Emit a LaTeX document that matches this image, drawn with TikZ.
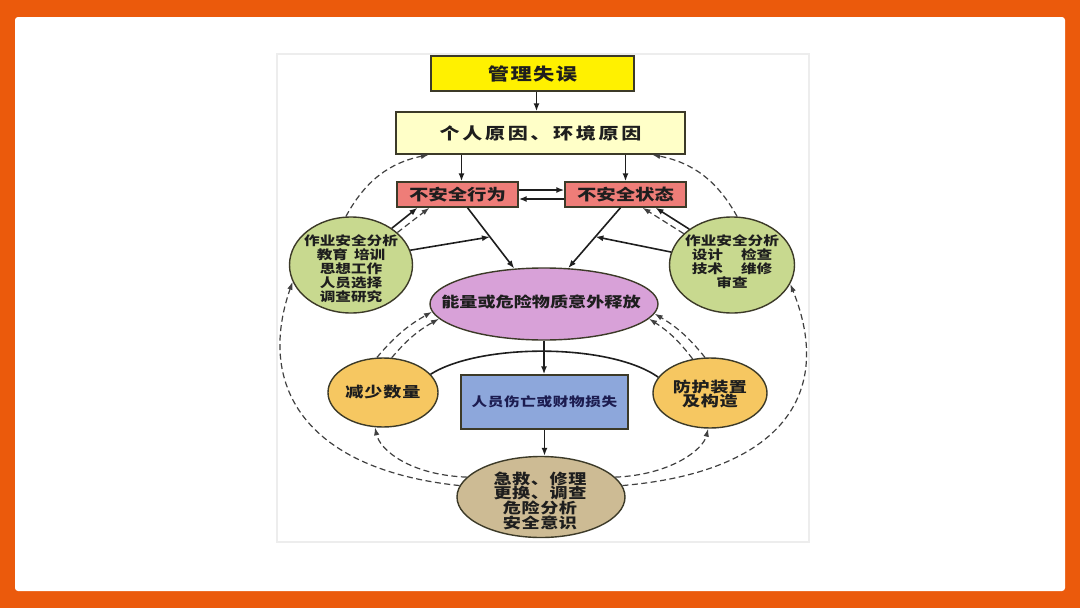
\documentclass[tikz,border=0pt]{standalone}
\usepackage{fontspec}
\setmainfont{Noto Sans CJK SC}[FakeStretch=1.25]
\usetikzlibrary{shapes.geometric,arrows.meta,calc}
\definecolor{frameor}{HTML}{EB5A0C}
\definecolor{ylw}{HTML}{FFF100}
\definecolor{lylw}{HTML}{FFFFC8}
\definecolor{salmon}{HTML}{EE7D78}
\definecolor{grn}{HTML}{C8D98F}
\definecolor{purp}{HTML}{D8A1D8}
\definecolor{blu}{HTML}{8DA7DB}
\definecolor{orc}{HTML}{F6C761}
\definecolor{tan}{HTML}{CDBB94}
\definecolor{edge}{HTML}{3C3A28}
\definecolor{ink}{HTML}{1E1E1E}
\definecolor{navy}{HTML}{1C1C50}
\newcommand\lsp[1]{\addfontfeatures{LetterSpace=#1}}
\newcommand\fsz[2]{\fontsize{#1}{#2}\selectfont}
\begin{document}
\begin{tikzpicture}[x=1pt,y=-1pt,
  box/.style={draw=edge, line width=1.4pt, inner sep=0pt, text=ink, align=center},
  oval/.style={ellipse, draw=edge, line width=1.4pt, inner sep=0pt},
  lab/.style={text=ink, align=center, inner sep=0pt},
  arr/.style={draw=ink, line width=1.6pt, -{Latex[length=8pt,width=6pt]}},
  darr/.style={draw=ink!85, line width=1.2pt, dash pattern=on 6pt off 3.5pt, -{Latex[length=8pt,width=5.5pt]}},
  link/.style={draw=ink, line width=1.6pt},
]
\useasboundingbox (0,0) rectangle (1080,608);
\fill[frameor] (0,0) rectangle (1080,608);
\fill[white, rounded corners=3pt] (15,17) rectangle (1065,591);
\draw[black!7, line width=1.5pt] (277,54) rectangle (809,542);

% boxes
\node[box, fill=ylw, minimum width=203pt, minimum height=35pt, font=\bfseries\fsz{17}{17}\lsp{8}] (gm) at (532.5,73.5) {管理失误};
\node[box, fill=lylw, minimum width=289pt, minimum height=42pt, font=\bfseries\fsz{16}{16}\lsp{17}] (ge) at (540.5,133) {个人原因、环境原因};
\node[box, fill=salmon, minimum width=121pt, minimum height=25pt, font=\bfseries\fsz{15.5}{15.5}] (ua) at (457.5,194.5) {不安全行为};
\node[box, fill=salmon, minimum width=121pt, minimum height=25pt, font=\bfseries\fsz{15.5}{15.5}] (us) at (625.5,194.5) {不安全状态};

% ovals
\node[oval, fill=grn, minimum width=123pt, minimum height=96pt] (gl) at (351,265) {};
\node[lab, font=\bfseries\fsz{12.5}{14}] (glt) at (351,269) {作业安全分析\\教育\hspace{6pt}培训\\思想工作\\人员选择\\调查研究};
\node[oval, fill=grn, minimum width=125pt, minimum height=96pt] (gr) at (732,265) {};
\node[lab, font=\bfseries\fsz{12.5}{14}] (grt) at (732,262) {作业安全分析\\设计\hspace{18pt}检查\\技术\hspace{18pt}维修\\审查};
\node[oval, fill=purp, minimum width=228pt, minimum height=72pt] (pe) at (544,304) {};
\node[lab, font=\bfseries\fsz{14.5}{14.5}] (pet) at (541,302) {能量或危险物质意外释放};
\node[oval, fill=orc, minimum width=110pt, minimum height=69pt] (rc) at (383,392.5) {};
\node[lab, font=\bfseries\fsz{14.5}{14.5}\lsp{6}] (rct) at (383,392) {减少数量};
\node[oval, fill=orc, minimum width=114pt, minimum height=70pt] (pc) at (710,393) {};
\node[lab, font=\bfseries\fsz{14.5}{14.5}\lsp{4}] (pct) at (710,394) {防护装置\\及构造};
\node[box, fill=blu, minimum width=167pt, minimum height=54pt, text=navy, font=\bfseries\fsz{12.5}{12.5}\lsp{5}] (bb) at (544.5,402) {人员伤亡或财物损失};
\node[oval, fill=tan, minimum width=168pt, minimum height=81pt] (be) at (541,497) {};
\node[lab, font=\bfseries\fsz{14.5}{13.8}\lsp{4}] (bet) at (540,501) {急救、修理\\更换、调查\\危险分析\\安全意识};

% coordinates on boxes
\coordinate (g1) at ($(gm.south)+(4,0)$);
\coordinate (u1) at ($(ua.north)+(4,0)$);
\coordinate (a1) at ($(ua.south)+(10,0)$);
\coordinate (b1) at ($(us.south)+(-5,0)$);
\coordinate (m1) at ($(a1)!0.48!(pe.130)$);
\coordinate (m2) at ($(b1)!0.48!(pe.56)$);

% solid arrows
\draw[arr] (g1) -- (g1 |- ge.north);
\draw[arr] (u1 |- ge.south) -- (u1);
\draw[arr] (us.north |- ge.south) -- (us.north);
\draw[arr] ([yshift=4.5pt]ua.east) -- ([yshift=4.5pt]us.west);
\draw[arr] ([yshift=-4.5pt]us.west) -- ([yshift=-4.5pt]ua.east);
\draw[arr] (a1) -- (pe.130);
\draw[arr] (b1) -- (pe.56);
\draw[arr] (gl.42) -- ([xshift=-40pt]ua.south);
\draw[arr] (gl.14) -- (m1);
\draw[arr] (gr.140) -- ([xshift=30pt]us.south);
\draw[arr] (gr.168) -- (m2);
\draw[arr] (pe.south) -- (pe.south |- bb.north);
\draw[arr] (bb.south) -- (bb.south |- be.north);
\draw[link] (rc.21) .. controls (480,343) and (610,343) .. (pc.163);

% dashed arrows
\draw[darr] (gl.35) -- ([xshift=-28pt]ua.south);
\draw[darr] (gr.147) -- ([xshift=17pt]us.south);
\draw[darr] (gl.96) to[bend left=25] (ge.191);
\draw[darr] (gr.84) to[bend right=25] (ge.-11);
\draw[darr] (be.172) .. controls (310,470) and (255,390) .. (gl.196);
\draw[darr] (be.165) .. controls (410,475) and (380,450) .. (rc.257);
\draw[darr] (rc.100) to[bend left=10] (pe.184);
\draw[darr] (rc.76) to[bend left=10] (pe.188);
\draw[darr] (be.8) .. controls (780,472) and (835,395) .. (gr.-18);
\draw[darr] (be.15) .. controls (670,475) and (703,450) .. (pc.267);
\draw[darr] (pc.117) to[bend right=10] (pe.-8);
\draw[darr] (pc.98) to[bend right=10] (pe.-5);
\end{tikzpicture}
\end{document}
